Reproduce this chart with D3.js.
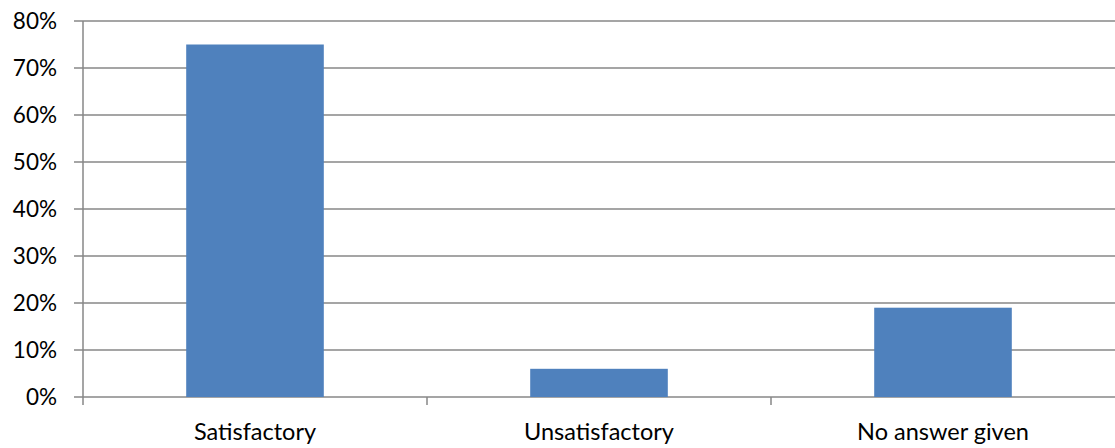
<!DOCTYPE html>
<html><head><meta charset="utf-8">
<script src="https://cdn.jsdelivr.net/npm/d3@7"></script>
<style>body{margin:0;background:#fff}svg{display:block}text{font-family:Lato,"Open Sans",sans-serif;fill:#000}</style>
</head><body><svg id="c" width="1115" height="448"></svg>
<script>
const categories = ["Satisfactory","Unsatisfactory","No answer given"];
const values = [0.75, 0.06, 0.19];
const yTicks = [0,0.1,0.2,0.3,0.4,0.5,0.6,0.7,0.8];

const svg = d3.select("#c");
const L=83, R=1115, T=21, B=397;
const x = d3.scaleBand().domain(categories).range([L,R]).paddingInner(0.6).paddingOuter(0.3);
const xb = d3.scaleBand().domain(categories).range([L,R]);
const y = d3.scaleLinear().domain([0,0.8]).range([B,T]);

svg.append("g").selectAll("line").data(yTicks).join("line")
  .attr("x1",L-9).attr("x2",R).attr("y1",d=>y(d)).attr("y2",d=>y(d))
  .attr("stroke","#878787").attr("stroke-width",1.5);
svg.append("line").attr("x1",L).attr("x2",L).attr("y1",T).attr("y2",B+8)
  .attr("stroke","#878787").attr("stroke-width",1.5);
svg.append("g").selectAll("line").data(categories.slice(1)).join("line")
  .attr("x1",d=>xb(d)).attr("x2",d=>xb(d)).attr("y1",B).attr("y2",B+8)
  .attr("stroke","#878787").attr("stroke-width",1.5);
svg.append("g").selectAll("rect").data(categories).join("rect")
  .attr("x",d=>x(d)).attr("width",x.bandwidth())
  .attr("y",(d,i)=>y(values[i])).attr("height",(d,i)=>B-y(values[i]))
  .attr("fill","#4F81BD");
svg.append("g").selectAll("text").data(yTicks).join("text")
  .attr("x",57).attr("y",d=>y(d)).attr("dy","0.36em").attr("text-anchor","end")
  .style("font-size","22.5px").text(d=>d3.format(".0%")(d));
svg.append("g").selectAll("text").data(categories).join("text")
  .attr("x",d=>xb(d)+xb.bandwidth()/2).attr("y",440).attr("text-anchor","middle")
  .style("font-size","23.5px").text(d=>d);
</script></body></html>
